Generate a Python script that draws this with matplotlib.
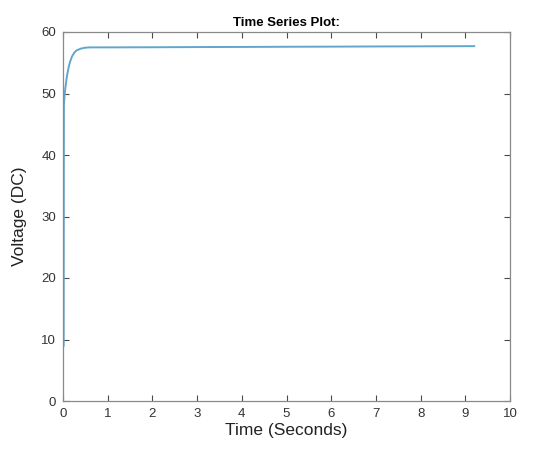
import matplotlib
matplotlib.use("Agg")
import matplotlib.pyplot as plt

# data
time_s = [0.015, 0.02, 0.03, 0.045, 0.06, 0.08, 0.1, 0.13, 0.16, 0.2, 0.25, 0.3, 0.4, 0.5, 0.6, 0.8,
          1.0, 2.0, 3.0, 4.0, 5.0, 6.0, 7.0, 8.0, 9.2]
voltage = [9.0, 48.0, 49.2, 50.4, 51.3, 52.4, 53.3, 54.4, 55.2, 56.0, 56.6, 57.0, 57.3, 57.45, 57.5, 57.5,
           57.5, 57.52, 57.55, 57.57, 57.6, 57.62, 57.65, 57.67, 57.7]
x_ticks = list(range(0, 11))
y_ticks = [0, 10, 20, 30, 40, 50, 60]

plt.rcParams['font.family'] = ['Liberation Sans', 'DejaVu Sans']

fig = plt.figure(figsize=(5.48, 4.51), dpi=100)
ax = fig.add_axes([63/548, 1-401/451, (510-63)/548, (401-32)/451])
ax.plot(time_s, voltage, color='#62a6cd', lw=1.4)
ax.set_xlim(0, 10)
ax.set_ylim(0, 60)
ax.set_xticks(x_ticks)
ax.set_yticks(y_ticks)
ax.tick_params(direction='in', top=True, right=True, length=4, width=0.8,
               colors='#4a4a4a', labelsize=9.5, labelcolor='#333333', pad=5)
for s in ax.spines.values():
    s.set_color('#8a8a8a')
    s.set_linewidth(0.9)
ax.set_title('Time Series Plot:', fontsize=9.5, fontweight='bold', pad=4)
ax.set_ylabel('Voltage (DC)', fontsize=12.5, color='#222222', labelpad=10)
ax.set_xlabel('Time (Seconds)', fontsize=12.5, color='#222222', labelpad=2)
fig.savefig('out.png', dpi=100)
